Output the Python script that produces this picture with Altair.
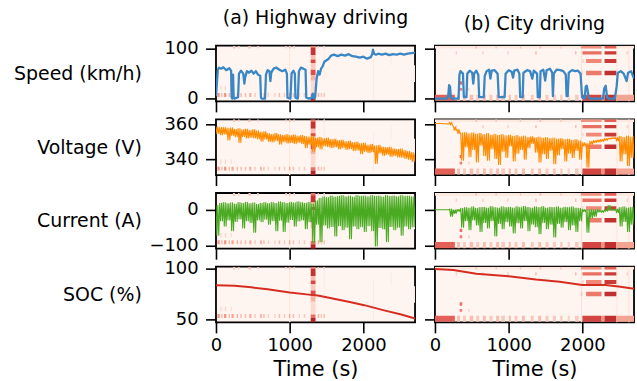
import altair as alt
import pandas as pd

FONT = "DejaVu Sans"

# ---------------- x sampling grid for dense (noisy) series, seconds ----------------
grid_t = list(range(0, 2701, 50))

# ---------------- Speed (km/h) ----------------
hw_speed_t = [0, 12, 25, 40, 70, 100, 140, 180, 205, 212,
              222, 232, 240, 250, 300, 312, 340, 370, 385, 395,
              420, 450, 480, 510, 540, 570, 600, 610, 620, 665,
              678, 700, 725, 738, 750, 780, 820, 860, 900, 940,
              962, 970, 1010, 1025, 1050, 1070, 1078, 1110, 1125, 1150,
              1185, 1215, 1225, 1265, 1300, 1315, 1330, 1345, 1365, 1385,
              1405, 1425, 1445, 1470, 1500, 1530, 1560, 1600, 1650, 1700,
              1750, 1800, 1850, 1900, 1950, 2000, 2050, 2100, 2120, 2130,
              2145, 2170, 2200, 2250, 2300, 2350, 2400, 2450, 2500, 2550,
              2600, 2650, 2700]
hw_speed_v = [5, 30, 58, 62, 60, 63, 57, 61, 56, 3,
              0, 48, 2, 0, 3, 50, 56, 50, 30, 42,
              55, 52, 56, 50, 55, 48, 46, 2, 0, 0,
              48, 57, 55, 35, 52, 60, 62, 58, 55, 58,
              50, 2, 0, 50, 56, 50, 2, 0, 55, 62,
              60, 58, 2, 0, 2, 10, 0, 3, 40, 55,
              48, 60, 64, 74, 77, 80, 86, 88, 85, 88,
              86, 89, 85, 84, 82, 84, 80, 83, 90, 98,
              90, 88, 90, 88, 90, 87, 89, 88, 90, 88,
              90, 91, 92]

city_speed_t = [0, 160, 180, 192, 205, 215, 230, 320, 332, 345,
                380, 392, 428, 438, 470, 505, 520, 532, 560, 588,
                600, 662, 675, 700, 735, 752, 770, 810, 850, 865,
                945, 958, 1000, 1040, 1060, 1075, 1120, 1145, 1156, 1190,
                1200, 1250, 1290, 1320, 1340, 1385, 1395, 1422, 1432, 1470,
                1495, 1515, 1560, 1590, 1600, 1612, 1650, 1700, 1740, 1775,
                1785, 1800, 1815, 1860, 1900, 1940, 1975, 1995, 2030, 2045,
                2060, 2085, 2100, 2280, 2295, 2315, 2335, 2350, 2440, 2465,
                2480, 2520, 2560, 2600, 2620, 2660, 2700]
city_speed_v = [0, 0, 5, 27, 24, 4, 0, 0, 48, 55,
                50, 3, 3, 50, 56, 52, 30, 50, 56, 48,
                3, 3, 45, 55, 58, 40, 56, 57, 50, 3,
                3, 50, 57, 54, 42, 56, 58, 50, 3, 3,
                52, 57, 55, 40, 56, 50, 3, 3, 55, 58,
                36, 57, 60, 52, 5, 50, 58, 57, 55, 48,
                5, 5, 52, 57, 55, 56, 50, 3, 0, 24,
                26, 3, 0, 0, 20, 26, 3, 0, 0, 25,
                52, 55, 50, 35, 52, 55, 40]

# ---------------- Voltage (V): upper / lower envelope per 50 s ----------------
hw_volt_hi = [358.5, 358.0, 358.2, 357.6, 357.9, 357.0, 357.4, 356.8, 357.2, 356.5,
              356.9, 356.2, 355.4, 355.8, 354.6, 354.2, 354.8, 354.0, 353.6, 354.1,
              353.5, 353.9, 353.2, 353.6, 353.0, 352.6, 353.4, 352.0, 352.5, 351.8,
              352.0, 351.2, 351.5, 350.6, 350.9, 350.1, 350.4, 349.5, 349.8, 348.9,
              349.2, 348.1, 348.5, 347.6, 347.9, 347.0, 346.6, 346.9, 346.0, 345.6,
              345.9, 345.0, 344.5, 343.8, 343.2]
hw_volt_lo = [354.6, 353.9, 354.2, 351.0, 353.5, 352.8, 349.5, 352.9, 352.0, 352.4,
              352.1, 351.6, 350.2, 351.4, 350.1, 349.8, 350.5, 348.5, 349.9, 349.2,
              349.4, 348.8, 349.5, 348.9, 346.5, 348.4, 344.5, 347.0, 345.8, 347.6,
              347.2, 346.6, 347.0, 345.8, 346.5, 345.6, 346.0, 344.8, 345.2, 343.2,
              344.5, 343.8, 344.1, 337.6, 343.5, 342.2, 342.8, 341.6, 342.0, 341.3,
              341.0, 340.4, 339.9, 338.6, 339.0]

city_volt_hi = [360.3, 360.3, 360.2, 360.2, 361.0, 358.5, 357.0, 355.0, 355.2, 354.5,
                355.0, 354.3, 354.8, 354.0, 354.6, 353.8, 354.2, 353.6, 354.0, 353.4,
                353.8, 353.0, 353.5, 352.8, 353.2, 352.5, 352.9, 352.2, 352.6, 352.0,
                352.4, 351.8, 352.1, 351.5, 351.8, 351.2, 351.5, 350.8, 351.2, 350.5,
                349.5, 349.0, 350.2, 350.6, 351.0, 351.3, 351.8, 352.0, 352.2, 352.3,
                353.0, 352.5, 353.2, 352.6, 353.0]
city_volt_lo = [360.3, 360.3, 360.2, 360.1, 359.5, 356.5, 354.5, 339.5, 347.0, 341.5,
                345.5, 338.5, 348.0, 342.0, 339.5, 346.0, 340.5, 337.0, 344.5, 341.0,
                347.5, 339.0, 343.5, 345.5, 340.0, 346.5, 349.0, 344.0, 338.5, 343.0,
                340.5, 345.0, 337.5, 342.5, 346.0, 339.0, 343.5, 341.0, 345.0, 340.0,
                347.5, 335.5, 348.5, 349.5, 349.8, 350.2, 350.8, 351.5, 351.8, 350.5,
                339.0, 343.0, 336.5, 341.0, 344.0]

# ---------------- Current (A): upper / lower envelope per 50 s ----------------
hw_curr_hi = [12, 18, 20, 17, 19, 16, 20, 18, 21, 17,
              19, 15, 18, 20, 17, 21, 18, 22, 20, 18,
              21, 19, 22, 20, 18, 21, 16, 25, 32, 36,
              34, 38, 35, 37, 39, 36, 38, 35, 39, 37,
              38, 36, 39, 37, 38, 35, 39, 37, 38, 36,
              39, 37, 38, 36, 37]
hw_curr_lo = [-70, -30, -45, -28, -58, -32, -25, -50, -30, -35,
              -62, -28, -33, -26, -40, -30, -58, -29, -60, -34,
              -27, -45, -31, -28, -52, -33, -90, -40, -88, -42,
              -50, -46, -72, -44, -55, -48, -80, -45, -52, -47,
              -60, -44, -58, -100, -49, -53, -88, -46, -55, -48,
              -70, -45, -52, -47, -44]

city_curr_hi = [0, 0, 0, 0, 2, 0, 1, 4, 6, 5,
                8, 4, 6, 7, 5, 9, 6, 5, 8, 6,
                7, 5, 8, 6, 10, 7, 5, 8, 6, 9,
                5, 7, 6, 8, 5, 7, 6, 8, 5, 4,
                1, 0, 0, 0, 0, -2, 0, 12, 1, 2,
                6, 8, 5, 7, 6]
city_curr_lo = [0, 0, 0, 0, -18, -10, -4, -48, -30, -55,
                -28, -42, -60, -35, -50, -30, -72, -38, -52, -33,
                -45, -64, -36, -50, -30, -58, -40, -47, -66, -35,
                -52, -40, -75, -38, -48, -33, -55, -42, -60, -30,
                -5, -62, -22, -18, -6, -7, -4, -2, -1, -8,
                -45, -32, -60, -40, -50]

# ---------------- SOC (%) ----------------
hw_soc_t = [0, 250, 480, 700, 1000, 1290, 1380, 1600, 1830, 2010, 2280, 2500, 2700]
hw_soc_v = [84, 83.4, 81.9, 80, 76.8, 74.5, 73.9, 70.7, 67.2, 64.4, 59.3, 55.5, 51.3]
city_soc_t = [0, 250, 560, 1000, 1370, 1690, 2000, 2310, 2490, 2700]
city_soc_v = [100, 99, 95.2, 92.7, 89.5, 87.3, 84.1, 84.1, 82.8, 80.6]

# ---------------- Heat-map background (fraction of panel height, 0 = top) ----------------
hw_col_t0, hw_col_t1 = 1285, 1350
hw_col_y0 = [0.00, 0.04, 0.17, 0.25, 0.31, 0.43, 0.53, 0.63, 0.86, 0.92]
hw_col_y1 = [0.04, 0.17, 0.25, 0.31, 0.43, 0.53, 0.63, 0.86, 0.92, 1.00]
hw_col_val = [0.45, 0.68, 0.22, 0.58, 0.18, 0.55, 0.25, 0.12, 0.45, 0.75]
hw_streak_t0 = [990, 1460, 2130, 2370, 2680]
hw_streak_t1 = [1008, 1475, 2142, 2382, 2700]
hw_streak_y0 = [0.00, 0.00, 0.25, 0.10, 0.35]
hw_streak_y1 = [1.00, 0.60, 0.95, 0.35, 0.65]
hw_streak_val = [0.06, 0.06, 0.06, 0.07, 0.05]
hw_top_t0 = [230, 300, 440, 560, 940, 990, 1050, 1380, 1460]
hw_top_t1 = [260, 320, 470, 580, 960, 1008, 1070, 1395, 1475]
hw_top_val = [0.20, 0.15, 0.22, 0.15, 0.15, 0.25, 0.15, 0.18, 0.18]
hw_bot_t0 = [20, 70, 110, 170, 210, 280, 330, 390, 450, 520, 600, 640, 700, 790, 850, 920,
             990, 1040, 1120, 1190, 1380, 1420, 1460]
hw_bot_t1 = [50, 90, 140, 190, 240, 300, 350, 410, 480, 540, 620, 660, 720, 810, 870, 940,
             1008, 1060, 1140, 1210, 1400, 1440, 1475]
hw_bot_val = [0.35, 0.22, 0.35, 0.22, 0.30, 0.26, 0.22, 0.22, 0.26, 0.18, 0.30, 0.22, 0.15,
              0.15, 0.22, 0.18, 0.30, 0.22, 0.15, 0.18, 0.26, 0.18, 0.26]
hw_mid_t0 = [60, 120, 200]
hw_mid_t1 = [75, 135, 215]
hw_mid_val = [0.15, 0.15, 0.12]

city_streak_t0 = [1980, 2460, 2620]
city_streak_t1 = [1995, 2475, 2640]
city_streak_val = [0.10, 0.07, 0.07]
city_b0_t0 = [0, 550, 820, 1150, 1420, 1700, 1980, 2300]
city_b0_t1 = [2700, 570, 840, 1170, 1440, 1720, 2260, 2460]
city_b0_val = [0.06, 0.22, 0.18, 0.18, 0.22, 0.18, 0.35, 0.50]
city_b1_t0 = [280, 640, 980, 1360, 1900, 2000, 2300, 2600]
city_b1_t1 = [300, 660, 1000, 1380, 1920, 2260, 2460, 2620]
city_b1_val = [0.15, 0.15, 0.15, 0.22, 0.22, 0.45, 0.65, 0.15]
city_b2_t0 = [2000, 2050, 2300]
city_b2_t1 = [2015, 2260, 2460]
city_b2_val = [0.20, 0.38, 0.65]
city_b3_t0 = [1985, 2050, 2300]
city_b3_t1 = [2000, 2260, 2460]
city_b3_val = [0.22, 0.42, 0.70]
city_b4_t0, city_b4_t1, city_b4_val = [335], [370], [0.45]
city_b5_t0, city_b5_t1, city_b5_val = [335, 450], [370, 470], [0.40, 0.15]
city_b6_t0 = [0, 300, 380, 470, 560, 650, 740, 830, 900, 1000, 1080, 1180, 1300, 1400, 1500,
              1600, 1700, 1800, 1900, 2000, 2260, 2300, 2460]
city_b6_t1 = [270, 340, 420, 520, 600, 690, 780, 870, 950, 1030, 1120, 1220, 1340, 1440, 1540,
              1640, 1730, 1830, 1950, 2260, 2300, 2460, 2700]
city_b6_val = [0.50, 0.22, 0.18, 0.22, 0.18, 0.22, 0.18, 0.22, 0.18, 0.22, 0.18, 0.22, 0.18,
               0.22, 0.18, 0.18, 0.18, 0.15, 0.18, 0.60, 0.35, 0.70, 0.30]

# colour ramp of the heat map
heat_stops = [0.0, 0.1, 0.25, 0.4, 0.55, 0.7, 0.85]
heat_colors = ["#fff5f0", "#fde0d8", "#f7b4a6", "#ee8070", "#dc4f48", "#c0302f", "#96161c"]

# ---------------- styling ----------------
COL_SPEED = "#3a87c6"
COL_VOLT = "#ff8c00"
COL_CURR = "#4aab22"
COL_SOC = "#d62d20"
PW, PH = 200, 56
TICK = 10.5


def band(t0s, t1s, vals, y0, y1):
    return [dict(t0=a, t1=b, h=v, y0=y0, y1=y1) for a, b, v in zip(t0s, t1s, vals)]


hw_rows = []
hw_rows += [dict(t0=a, t1=b, h=v, y0=c, y1=d) for a, b, c, d, v in
            zip(hw_streak_t0, hw_streak_t1, hw_streak_y0, hw_streak_y1, hw_streak_val)]
hw_rows += band(hw_top_t0, hw_top_t1, hw_top_val, 0.0, 0.05)
hw_rows += band(hw_bot_t0, hw_bot_t1, hw_bot_val, 0.85, 0.92)
hw_rows += band(hw_mid_t0, hw_mid_t1, hw_mid_val, 0.72, 0.80)
hw_rows += [dict(t0=hw_col_t0, t1=hw_col_t1, h=v, y0=a, y1=b) for a, b, v in
            zip(hw_col_y0, hw_col_y1, hw_col_val)]
hw_heat = pd.DataFrame(hw_rows)

city_rows = []
city_rows += band(city_streak_t0, city_streak_t1, city_streak_val, 0.0, 1.0)
city_rows += band(city_b0_t0, city_b0_t1, city_b0_val, 0.00, 0.05)
city_rows += band(city_b1_t0, city_b1_t1, city_b1_val, 0.10, 0.16)
city_rows += band(city_b2_t0, city_b2_t1, city_b2_val, 0.24, 0.31)
city_rows += band(city_b3_t0, city_b3_t1, city_b3_val, 0.45, 0.53)
city_rows += band(city_b4_t0, city_b4_t1, city_b4_val, 0.64, 0.70)
city_rows += band(city_b5_t0, city_b5_t1, city_b5_val, 0.76, 0.81)
city_rows += band(city_b6_t0, city_b6_t1, city_b6_val, 0.88, 0.99)
city_heat = pd.DataFrame(city_rows)


def poly(ts, vs):
    return pd.DataFrame({"t": ts, "v": vs})


def zigzag(hi, lo):
    # two swings between the envelope values within every 50 s bin
    ts, vs = [], []
    for t, h, l in zip(grid_t, hi, lo):
        ts += [t, t + 12.5, t + 25, t + 37.5]
        vs += [h, l, h, l]
    return pd.DataFrame({"t": ts, "v": vs})


rows = [
    ("Speed (km/h)", [-5.5, 106], [0, 100], COL_SPEED, 2.3,
     poly(hw_speed_t, hw_speed_v), poly(city_speed_t, city_speed_v)),
    ("Voltage (V)", [331, 362.7], [340, 360], COL_VOLT, 1.1,
     zigzag(hw_volt_hi, hw_volt_lo), zigzag(city_volt_hi, city_volt_lo)),
    ("Current (A)", [-107.5, 46.4], [-100, 0], COL_CURR, 1.1,
     zigzag(hw_curr_hi, hw_curr_lo), zigzag(city_curr_hi, city_curr_lo)),
    ("SOC (%)", [47.5, 102.2], [50, 100], COL_SOC, 2.0,
     poly(hw_soc_t, hw_soc_v), poly(city_soc_t, city_soc_v)),
]

xscale = alt.Scale(domain=[0, 2700], nice=False, zero=False)


def panel(heat_df, line_df, color, sw, ydom, yticks, ylabel, left, bottom, title):
    xaxis = alt.Axis(values=[0, 1000, 2000], format="d", labels=bottom,
                     title="Time (s)" if bottom else None,
                     domain=False, grid=False, ticks=True, tickSize=TICK, tickWidth=1.6,
                     tickColor="black", labelFontSize=18, labelColor="black", labelFont=FONT,
                     labelPadding=4, titleFontSize=21, titleFontWeight="normal", titleFont=FONT,
                     titleColor="black", titlePadding=4, labelFlush=False)
    yaxis_kw = dict(values=yticks, orient="left", labels=left, domain=False, grid=False,
                    tickSize=TICK, tickWidth=1.6, tickColor="black", labelFontSize=18,
                    labelColor="black", labelFont=FONT, labelPadding=7.5)
    if left:
        yaxis_kw.update(title=ylabel, titleAngle=0, titleAlign="right", titleBaseline="middle",
                        titleX=-75, titleY=PH / 2, titleFontSize=19, titleFontWeight="normal",
                        titleFont=FONT, titleColor="black")
    else:
        yaxis_kw.update(title=None)
    heat = alt.Chart(heat_df).mark_rect(clip=True).encode(
        x=alt.X("t0:Q", scale=xscale, axis=xaxis),
        x2="t1:Q",
        y=alt.Y("y0:Q", scale=alt.Scale(domain=[0, 1], reverse=True, nice=False), axis=None),
        y2="y1:Q",
        color=alt.Color("h:Q", scale=alt.Scale(domain=heat_stops, range=heat_colors,
                                               clamp=True), legend=None),
    )
    line = alt.Chart(line_df).mark_line(color=color, strokeWidth=sw, clip=True,
                                        strokeJoin="round").encode(
        x=alt.X("t:Q", scale=xscale, axis=xaxis),
        y=alt.Y("v:Q", scale=alt.Scale(domain=ydom, nice=False, zero=False),
                axis=alt.Axis(**yaxis_kw)),
    )
    ch = alt.layer(heat, line).resolve_scale(y="independent").properties(width=PW, height=PH)
    if title:
        ch = ch.properties(title=alt.TitleParams(text=title, fontSize=19, fontWeight="normal",
                                                 font=FONT, color="black", anchor="middle",
                                                 offset=12))
    return ch


panels = []
for i, (lab, ydom, yt, col, sw, hw_df, city_df) in enumerate(rows):
    bottom = i == len(rows) - 1
    panels.append(panel(hw_heat, hw_df, col, sw, ydom, yt, lab, True, bottom,
                        "(a) Highway driving" if i == 0 else None))
    panels.append(panel(city_heat, city_df, col, sw, ydom, yt, lab, False, bottom,
                        "(b) City driving" if i == 0 else None))

chart = alt.concat(*panels, columns=2, bounds="flush",
                   spacing={"row": 18, "column": 20}).properties(
    padding={"left": 12, "top": 7, "right": 2, "bottom": 0},
    background="white",
).configure(
    font=FONT,
    view=alt.ViewConfig(stroke="black", strokeWidth=1.8, fill="#fff5f0"),
)

chart.save("out.html", embed_options={"renderer": "svg", "actions": False})
